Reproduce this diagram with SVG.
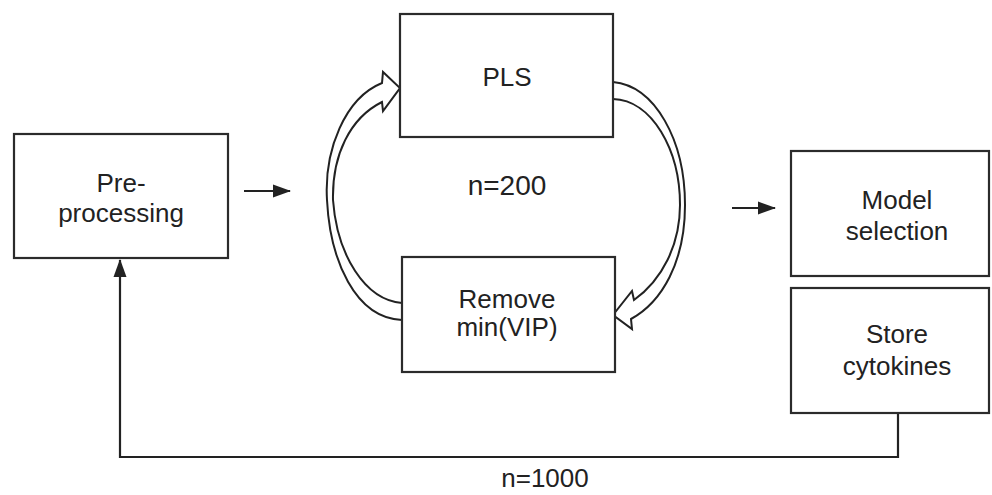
<svg xmlns="http://www.w3.org/2000/svg" width="992" height="495" viewBox="0 0 992 495">
  <defs>
    <style>
      .box { fill: #ffffff; stroke: #2b2b2b; stroke-width: 2.2; }
      .lbl { font-family: "Liberation Sans", Arial, sans-serif; font-size: 26px; fill: #222222; text-anchor: middle; }
      .big { font-size: 28px; }
      .line { fill: none; stroke: #222222; stroke-width: 2.2; }
      .hollow { fill: #ffffff; stroke: #222222; stroke-width: 2; stroke-linejoin: miter; }
    </style>
    <marker id="headBig" markerWidth="18" markerHeight="14" refX="17" refY="7" orient="auto" markerUnits="userSpaceOnUse" viewBox="0 0 18 14">
      <path d="M0,0.5 L18,7 L0,13.5 Z" fill="#222222"/>
    </marker>
  </defs>

  <rect width="992" height="495" fill="#ffffff"/>

  <!-- connectors -->
  <g id="connectors">
    <line class="line" x1="244" y1="191" x2="290" y2="191" marker-end="url(#headBig)"/>
    <line class="line" x1="732" y1="208" x2="775" y2="208" marker-end="url(#headBig)"/>
    <!-- feedback loop from Store cytokines back to Pre-processing -->
    <path class="line" d="M898,413 L898,457 L120,457 L120,260" marker-end="url(#headBig)"/>
    <!-- hollow curved arrow: Remove min(VIP) back to PLS -->
    <path class="hollow" d="M402,320 C355,318 330,260 327,200 C324,150 345,98 382,83 L383,72 L400,88 L383,111 L382,102 C350,118 332,155 333,200 C337,255 365,300 402,303"/>
    <!-- hollow curved arrow: PLS to Remove min(VIP) -->
    <path class="hollow" d="M613,82 C655,86 685,140 685,205 C685,262 662,302 631,319 L632,329 L613,315 L632,291 L634,300 C662,280 680,245 680,205 C680,150 652,100 613,99"/>
  </g>

  <g id="preprocessing">
    <rect class="box" x="14" y="134" width="214" height="124"/>
    <text class="lbl" x="121" y="192">Pre-</text>
    <text class="lbl" x="121" y="222">processing</text>
  </g>

  <g id="pls">
    <rect class="box" x="400" y="14" width="213" height="123"/>
    <text class="lbl" x="507" y="86">PLS</text>
  </g>

  <g id="iterations">
    <text class="lbl big" x="507" y="195">n=200</text>
  </g>

  <g id="remove">
    <rect class="box" x="402" y="257" width="213" height="115"/>
    <text class="lbl" x="507" y="308">Remove</text>
    <text class="lbl" x="507" y="336">min(VIP)</text>
  </g>

  <g id="model">
    <rect class="box" x="791" y="151" width="198" height="125"/>
    <text class="lbl" x="897" y="209">Model</text>
    <text class="lbl" x="897" y="240">selection</text>
  </g>

  <g id="store">
    <rect class="box" x="791" y="288" width="198" height="125"/>
    <text class="lbl" x="897" y="343">Store</text>
    <text class="lbl" x="897" y="375">cytokines</text>
  </g>

  <g id="repeats">
    <text class="lbl" x="545" y="487">n=1000</text>
  </g>
</svg>
